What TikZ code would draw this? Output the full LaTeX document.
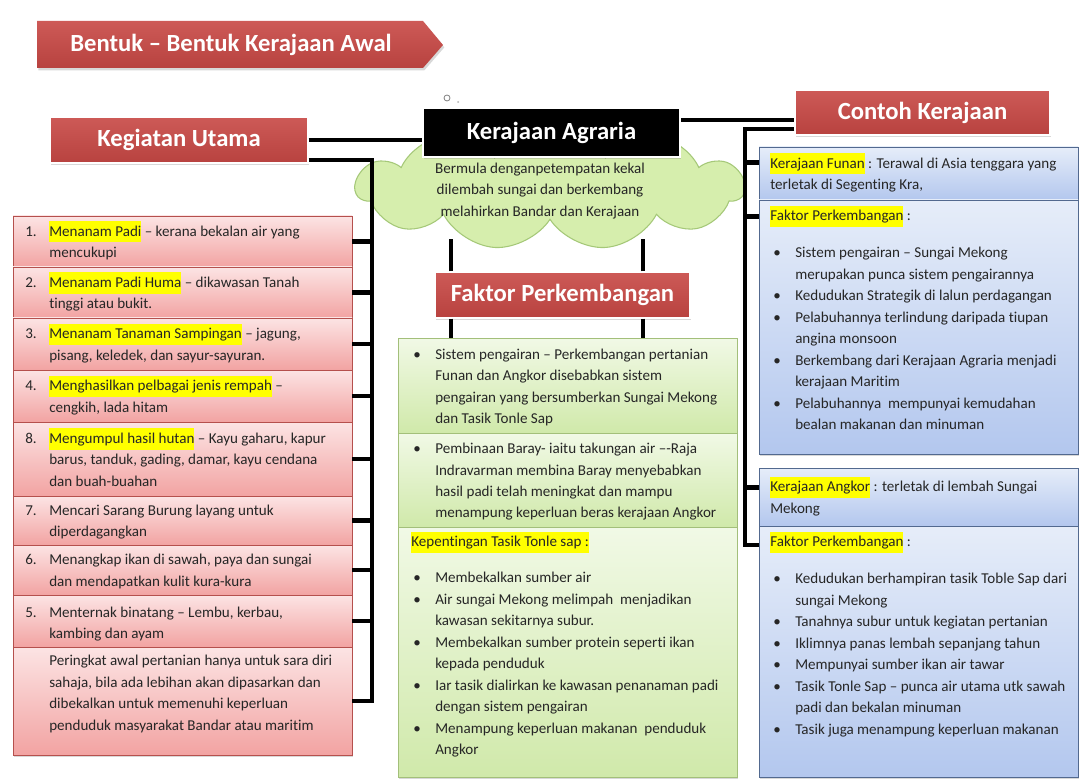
\documentclass[tikz,border=0pt]{standalone}
\usepackage{fontspec}
\setmainfont{Carlito}[Ligatures={NoCommon}]
\usetikzlibrary{shapes.symbols,shadows,calc}
\definecolor{hdrtop}{HTML}{CD5A57}
\definecolor{hdrbot}{HTML}{B8423F}
\definecolor{redtop}{HTML}{FCE4E4}
\definecolor{redbot}{HTML}{F2A3A2}
\definecolor{redline}{HTML}{B5504D}
\definecolor{grntop}{HTML}{F1F9E6}
\definecolor{grnbot}{HTML}{D0E9AA}
\definecolor{grnline}{HTML}{A3BF7A}
\definecolor{blutop}{HTML}{E6EDF9}
\definecolor{blubot}{HTML}{B3C7EE}
\definecolor{bluline}{HTML}{52698F}
\definecolor{cloudfill}{HTML}{D6EEAD}
\definecolor{cloudline}{HTML}{A5C878}
\definecolor{hl}{HTML}{FFFF00}
\definecolor{txtc}{HTML}{262626}
\newcommand\bfnt{\fontsize{11.3}{16.1}\selectfont}
\newcommand\hfnt{\fontsize{18.5}{22}\selectfont\bfseries}
\newcommand\hy[1]{{\setlength{\fboxsep}{0pt}\colorbox{hl}{\strut#1}}}
\newcommand\sect[6]{\node[#1, minimum width={(#4-#2)*0.75pt}, minimum height={(#5-#3)*0.75pt}] (#6) at ({(#2+#4)/2},{(#3+#5)/2}) {};}
\begin{document}
\begin{tikzpicture}[x=0.75pt,y=-0.75pt,
  shad/.style={drop shadow={opacity=0.3,shadow xshift=1pt,shadow yshift=-1.8pt}},
  sec/.style={draw, inner sep=0pt, line width=0.6pt, shad},
  redsec/.style={sec, draw=redline, top color=redtop, bottom color=redbot},
  grnsec/.style={sec, draw=grnline, top color=grntop, bottom color=grnbot},
  blusec/.style={sec, draw=bluline, top color=blutop, bottom color=blubot},
  hdr/.style={draw=white, line width=1pt, top color=hdrtop, bottom color=hdrbot, text=white, font=\hfnt, inner sep=0pt, shad},
  conn/.style={line width=3.2pt, black},
  txt/.style={inner sep=0pt, text=txtc, font=\bfnt, align=left}]
\useasboundingbox[fill=white] (0,0) rectangle (1084,780);

% title
\shade[top color=hdrtop, bottom color=hdrbot, shad] (37,21) -- (423,21) -- (443,45) -- (423,68) -- (37,68) -- cycle;
\node[text=white, font=\hfnt, inner sep=0pt] (title) at (231,45) {Bentuk – Bentuk Kerajaan Awal};

% cloud
\node[cloud, cloud puffs=11, cloud puff arc=120, cloud ignores aspect, minimum width={388*0.75pt}, minimum height={124*0.75pt}, fill=cloudfill, draw=cloudline, line width=0.8pt] (cl) at (550,188) {};
\draw[gray, fill=white, line width=0.6pt] (447,98) circle (3);
\fill[gray!60] (458,102) circle (1);
\node[txt, align=center] (ct) at (540,191) {Bermula denganpetempatan kekal\\dilembah sungai dan berkembang\\melahirkan Bandar dan Kerajaan};

% headers
\node[hdr, minimum width={258*0.75pt}, minimum height={46*0.75pt}] (ku) at (179,140) {Kegiatan Utama};
\node[hdr, minimum width={255*0.75pt}, minimum height={46*0.75pt}] (fp) at (562.5,295) {Faktor Perkembangan};
\node[hdr, minimum width={255*0.75pt}, minimum height={45*0.75pt}] (ck) at (922.5,112.5) {Contoh Kerajaan};

% red list sections
\sect{redsec}{13}{216}{352}{267}{r1}
\sect{redsec}{13}{267}{352}{318}{r2}
\sect{redsec}{13}{318}{352}{370}{r3}
\sect{redsec}{13}{370}{352}{422}{r4}
\sect{redsec}{13}{422}{352}{496}{r5}
\sect{redsec}{13}{496}{352}{545}{r6}
\sect{redsec}{13}{545}{352}{595}{r7}
\sect{redsec}{13}{595}{352}{647}{r8}
\sect{redsec}{13}{647}{352}{755}{r9}

% green sections
\sect{grnsec}{398}{338}{737}{433}{g1}
\sect{grnsec}{398}{433}{737}{527}{g2}
\sect{grnsec}{398}{527}{737}{777}{g3}

% blue sections
\sect{blusec}{759}{147}{1078}{200}{b1}
\sect{blusec}{759}{200}{1078}{454}{b2}
\sect{blusec}{759}{468}{1078}{526}{b3}
\sect{blusec}{759}{526}{1078}{777}{b4}

% connectors
\draw[conn] (ku.east) -- (ku.east -| 423,0);
\coordinate (lb) at (372,701);
\draw[conn] ($(ku.east)+(0,20)$) -| (lb) -- (r9.east);
\foreach \n in {r1,r2,r3,r4,r5,r6,r7,r8} \draw[conn] (\n.east) -- (\n.east -| lb);

\path (fp.north west) ++(17,0) coordinate (fa1);
\path (fp.north east) ++(-48,0) coordinate (fa2);
\draw[conn] (fa1) -- ++(0,-32);
\draw[conn] (fa2) -- ++(0,-32);
\path (fp.south west) ++(17,0) coordinate (fb1);
\path (fp.south east) ++(-48,0) coordinate (fb2);
\draw[conn] (fb1) -- (fb1 |- g1.north);
\draw[conn] (fb2) -- (fb2 |- g1.north);

\coordinate (rb) at (745,545);
\path (ck.west) ++(0,7.5) coordinate (ckA);
\path (ck.west) ++(0,16.5) coordinate (ckB);
\draw[conn] (ckB) -| (rb) -- (rb -| b4.west);
\path (b1.north west) ++(0,16) coordinate (tb1);
\path (b2.north west) ++(0,17) coordinate (tb2);
\path (b3.north west) ++(0,20) coordinate (tb3);
\draw[conn] (tb1) -- (tb1 -| rb);
\draw[conn] (tb2) -- (tb2 -| rb);
\draw[conn] (tb3) -- (tb3 -| rb);

% black box
\node[fill=black, draw=white, line width=1.5pt, text=white, font=\hfnt, inner sep=0pt, minimum width={257*0.75pt}, minimum height={49*0.75pt}, shad] (ka) at (551.5,132.5) {Kerajaan Agraria};
\draw[conn] (ka.east |- ckA) -- (ckA);

% red list text
\node[txt, anchor=west] (tr1) at (25,242.5) {\begin{tabular}{@{}p{18pt}@{}l@{}}1.&\hy{Menanam Padi} – kerana bekalan air yang\\&mencukupi\end{tabular}};
\node[txt, anchor=west] (tr2) at (25,293.5) {\begin{tabular}{@{}p{18pt}@{}l@{}}2.&\hy{Menanam Padi Huma} – dikawasan Tanah\\&tinggi atau bukit.\end{tabular}};
\node[txt, anchor=west] (tr3) at (25,345) {\begin{tabular}{@{}p{18pt}@{}l@{}}3.&\hy{Menanam Tanaman Sampingan} – jagung,\\&pisang, keledek, dan sayur-sayuran.\end{tabular}};
\node[txt, anchor=west] (tr4) at (25,397) {\begin{tabular}{@{}p{18pt}@{}l@{}}4.&\hy{Menghasilkan pelbagai jenis rempah} –\\&cengkih, lada hitam\end{tabular}};
\node[txt, anchor=west] (tr5) at (25,460.5) {\begin{tabular}{@{}p{18pt}@{}l@{}}8.&\hy{Mengumpul hasil hutan} – Kayu gaharu, kapur\\&barus, tanduk, gading, damar, kayu cendana\\&dan buah-buahan\end{tabular}};
\node[txt, anchor=west] (tr6) at (25,521.5) {\begin{tabular}{@{}p{18pt}@{}l@{}}7.&Mencari Sarang Burung layang untuk\\&diperdagangkan\end{tabular}};
\node[txt, anchor=west] (tr7) at (25,571) {\begin{tabular}{@{}p{18pt}@{}l@{}}6.&Menangkap ikan di sawah, paya dan sungai\\&dan mendapatkan kulit kura-kura\end{tabular}};
\node[txt, anchor=west] (tr8) at (25,623.5) {\begin{tabular}{@{}p{18pt}@{}l@{}}5.&Menternak binatang – Lembu, kerbau,\\&kambing dan ayam\end{tabular}};
\node[txt, anchor=north west] (tr9) at (49,650.5) {\begin{tabular}{@{}l@{}}Peringkat awal pertanian hanya untuk sara diri\\sahaja, bila ada lebihan akan dipasarkan dan\\dibekalkan untuk memenuhi keperluan\\penduduk masyarakat Bandar atau maritim\end{tabular}};

% green text
\node[txt, anchor=west] (tg1) at (413,387) {\begin{tabular}{@{}p{16.5pt}@{}l@{}}•&Sistem pengairan – Perkembangan pertanian\\&Funan dan Angkor disebabkan sistem\\&pengairan yang bersumberkan Sungai Mekong\\&dan Tasik Tonle Sap\end{tabular}};
\node[txt, anchor=west] (tg2) at (413,481.5) {\begin{tabular}{@{}p{16.5pt}@{}l@{}}•&Pembinaan Baray- iaitu takungan air –-Raja\\&Indravarman membina Baray menyebabkan\\&hasil padi telah meningkat dan mampu\\&menampung keperluan beras kerajaan Angkor\end{tabular}};
\node[txt, anchor=north west] (tg3) at (411,531.5) {\hy{Kepentingan Tasik Tonle sap :}};
\node[txt, anchor=north west] (tg4) at (413,567.5) {\begin{tabular}{@{}p{16.5pt}@{}l@{}}•&Membekalkan sumber air\\•&Air sungai Mekong melimpah \ menjadikan\\&kawasan sekitarnya subur.\\•&Membekalkan sumber protein seperti ikan\\&kepada penduduk\\•&Iar tasik dialirkan ke kawasan penanaman padi\\&dengan sistem pengairan\\•&Menampung keperluan makanan \ penduduk\\&Angkor\end{tabular}};

% blue text
\node[txt, anchor=west] (tb1t) at (770,174.5) {\begin{tabular}{@{}l@{}}\hy{Kerajaan Funan} : Terawal di Asia tenggara yang\\terletak di Segenting Kra,\end{tabular}};
\node[txt, anchor=north west] (tb2t) at (770,205.5) {\hy{Faktor Perkembangan} :};
\node[txt, anchor=north west] (tb2b) at (773,242.5) {\begin{tabular}{@{}p{16.5pt}@{}l@{}}•&Sistem pengairan – Sungai Mekong\\&merupakan punca sistem pengairannya\\•&Kedudukan Strategik di lalun perdagangan\\•&Pelabuhannya terlindung daripada tiupan\\&angina monsoon\\•&Berkembang dari Kerajaan Agraria menjadi\\&kerajaan Maritim\\•&Pelabuhannya \ mempunyai kemudahan\\&bealan makanan dan minuman\end{tabular}};
\node[txt, anchor=west] (tb3t) at (770,498) {\begin{tabular}{@{}l@{}}\hy{Kerajaan Angkor} : terletak di lembah Sungai\\Mekong\end{tabular}};
\node[txt, anchor=north west] (tb4t) at (770,531.5) {\hy{Faktor Perkembangan} :};
\node[txt, anchor=north west] (tb4b) at (773,568.5) {\begin{tabular}{@{}p{16.5pt}@{}l@{}}•&Kedudukan berhampiran tasik Toble Sap dari\\&sungai Mekong\\•&Tanahnya subur untuk kegiatan pertanian\\•&Iklimnya panas lembah sepanjang tahun\\•&Mempunyai sumber ikan air tawar\\•&Tasik Tonle Sap – punca air utama utk sawah\\&padi dan bekalan minuman\\•&Tasik juga menampung keperluan makanan\end{tabular}};
\end{tikzpicture}
\end{document}
